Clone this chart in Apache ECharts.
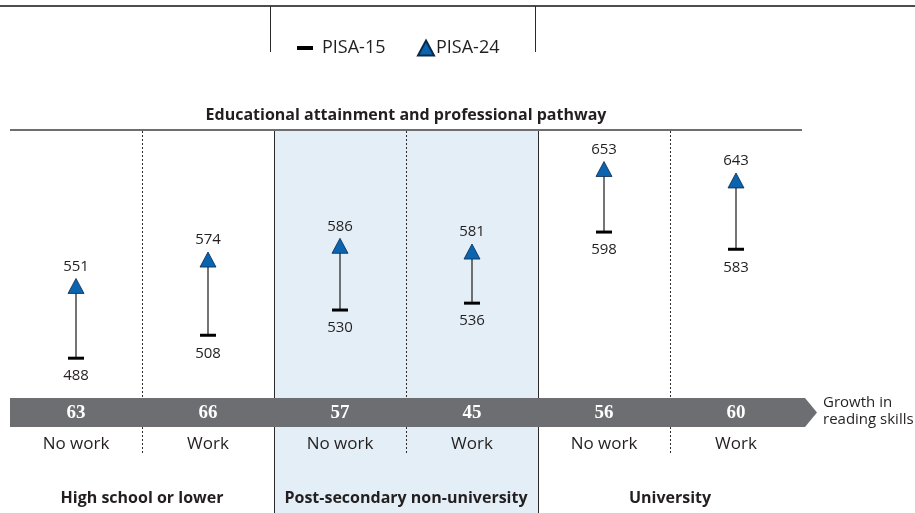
<!DOCTYPE html>
<html>
<head>
<meta charset="utf-8">
<script src="https://cdn.jsdelivr.net/npm/echarts@6/dist/echarts.min.js"></script>
<style>
  html, body { margin: 0; padding: 0; background: #ffffff; }
  #chart { width: 915px; height: 513px; }
</style>
</head>
<body>
<div id="chart"></div>
<script>
// Reading scores by educational attainment and work status
const pathways = ['No work', 'Work', 'No work', 'Work', 'No work', 'Work'];
const groups = ['High school or lower', 'Post-secondary non-university', 'University'];
const pisa15 = [488, 508, 530, 536, 598, 583];
const pisa24 = [551, 574, 586, 581, 653, 643];
const growth = [63, 66, 57, 45, 56, 60];
const seriesNames = ['PISA-15', 'PISA-24'];
const panelTitle = 'Educational attainment and professional pathway';
const growthCaption = 'Growth in\nreading skills';

const FONT = '"Open Sans", "Noto Sans", sans-serif';
const INK = '#231f20';
const BAR_GREY = '#6d6e71';
const BAR_TOP = 398, BAR_BOTTOM = 427;

const chart = echarts.init(document.getElementById('chart'));

const option = {
  animation: false,
  backgroundColor: '#ffffff',
  textStyle: { fontFamily: FONT },
  grid: { left: 10, right: 113, top: 130, bottom: 0, outerBoundsMode: 'none' },
  legend: [
    {
      data: [{ name: seriesNames[0], icon: 'rect' }],
      left: 292, top: 34,
      itemWidth: 16, itemHeight: 4,
      itemStyle: { color: '#000', borderWidth: 0 },
      textStyle: { fontFamily: FONT, fontSize: 18, color: INK, padding: [0, 0, 0, 4] },
      selectedMode: false
    },
    {
      data: [{ name: seriesNames[1], icon: 'triangle' }],
      left: 412, top: 34,
      itemWidth: 16, itemHeight: 15,
      textStyle: { fontFamily: FONT, fontSize: 18, color: INK, padding: [0, 0, 0, -3] },
      selectedMode: false
    }
  ],
  xAxis: {
    type: 'category',
    data: pathways,
    boundaryGap: true,
    offset: -77,
    axisLine: { show: false },
    axisTick: { show: false },
    splitLine: { show: false },
    axisLabel: { margin: 0, fontFamily: FONT, fontSize: 17, color: INK, interval: 0 }
  },
  yAxis: {
    type: 'value', min: 353, max: 687,
    show: false, splitLine: { show: false }
  },
  series: [
    {
      // connector between the two cycles
      type: 'custom',
      name: 'span',
      data: pathways.map((_, i) => [i, pisa15[i], pisa24[i]]),
      z: 3,
      renderItem: function (params, api) {
        const a = api.coord([api.value(0), api.value(1)]);
        const b = api.coord([api.value(0), api.value(2)]);
        return {
          type: 'line',
          shape: { x1: a[0], y1: a[1], x2: b[0], y2: b[1] },
          style: { stroke: '#3a3a3a', lineWidth: 1.4 }
        };
      }
    },
    {
      name: seriesNames[0],
      type: 'scatter',
      data: pathways.map((_, i) => [i, pisa15[i]]),
      symbol: 'rect',
      symbolSize: [16, 3],
      itemStyle: { color: '#000', opacity: 1 },
      z: 4,
      label: {
        show: true, position: 'bottom', distance: 9,
        formatter: p => p.value[1],
        fontFamily: FONT, fontSize: 15, color: INK
      }
    },
    {
      name: seriesNames[1],
      type: 'scatter',
      data: pathways.map((_, i) => [i, pisa24[i]]),
      symbol: 'triangle',
      symbolSize: [16, 15],
      itemStyle: { color: '#0a64b0', borderColor: '#0b2a4a', borderWidth: 0.8, opacity: 1 },
      z: 5,
      label: {
        show: true, position: 'top', distance: 4,
        formatter: p => p.value[1],
        fontFamily: FONT, fontSize: 15, color: INK
      }
    },
    {
      // growth figures printed on the arrow band
      type: 'custom',
      name: 'growth',
      data: growth.map((g, i) => [i, g]),
      z: 6,
      renderItem: function (params, api) {
        const x = api.coord([api.value(0), 500])[0];
        return {
          type: 'text',
          x: x, y: (BAR_TOP + BAR_BOTTOM) / 2 + 1,
          style: {
            text: String(api.value(1)),
            fill: '#ffffff',
            font: 'bold 19px "Liberation Serif", "DejaVu Serif", serif',
            align: 'center', verticalAlign: 'middle'
          }
        };
      }
    }
  ]
};

chart.setOption(option);

// Frame, shading and captions placed from the category scale
const cx = pathways.map((_, i) => chart.convertToPixel({ xAxisIndex: 0 }, i));
const step = cx[1] - cx[0];
const leftEdge = cx[0] - step / 2;
const rightEdge = cx[cx.length - 1] + step / 2;
const boundary = i => cx[i] + step / 2;

const elements = [];
elements.push({
  type: 'rect', z: -10,
  shape: { x: boundary(1), y: 130, width: 2 * step, height: 383 },
  style: { fill: '#e3eef6' }
});
[boundary(1), boundary(3)].forEach(x => elements.push({
  type: 'line', z: 1,
  shape: { x1: Math.round(x) + 0.5, y1: 130, x2: Math.round(x) + 0.5, y2: 513 },
  style: { stroke: '#2a2a2a', lineWidth: 1 }
}));
[boundary(0), boundary(2), boundary(4)].forEach(x => elements.push({
  type: 'line', z: 1,
  shape: { x1: Math.round(x) + 0.5, y1: 131, x2: Math.round(x) + 0.5, y2: 455 },
  style: { stroke: '#2a2a2a', lineWidth: 1, lineDash: [2, 2] }
}));
elements.push({
  type: 'line', z: 2,
  shape: { x1: leftEdge, y1: 130, x2: rightEdge, y2: 130 },
  style: { stroke: '#6d6e71', lineWidth: 2 }
});
elements.push({
  type: 'text', z: 2,
  x: (leftEdge + rightEdge) / 2, y: 115,
  style: {
    text: panelTitle, fill: INK,
    font: 'bold 16px ' + FONT, align: 'center', verticalAlign: 'middle'
  }
});
elements.push({
  type: 'polygon', z: 3,
  shape: {
    points: [
      [leftEdge, BAR_TOP], [rightEdge + 3, BAR_TOP],
      [rightEdge + 15, (BAR_TOP + BAR_BOTTOM) / 2],
      [rightEdge + 3, BAR_BOTTOM], [leftEdge, BAR_BOTTOM]
    ]
  },
  style: { fill: BAR_GREY }
});
elements.push({
  type: 'text', z: 3,
  x: rightEdge + 21, y: 411,
  style: {
    text: growthCaption, fill: INK,
    font: '15px ' + FONT, lineHeight: 17, align: 'left', verticalAlign: 'middle'
  }
});
groups.forEach((g, k) => elements.push({
  type: 'text', z: 3,
  x: boundary(2 * k), y: 498,
  style: {
    text: g, fill: INK,
    font: 'bold 16px ' + FONT, align: 'center', verticalAlign: 'middle'
  }
}));
// header rule and legend frame
elements.push({
  type: 'line', z: 2,
  shape: { x1: 0, y1: 6, x2: 915, y2: 6 },
  style: { stroke: '#4d4d4f', lineWidth: 2 }
});
[270.5, 535.5].forEach(x => elements.push({
  type: 'line', z: 2,
  shape: { x1: x, y1: 6, x2: x, y2: 52 },
  style: { stroke: '#2a2a2a', lineWidth: 1 }
}));

chart.setOption({ graphic: { elements: elements } });
</script>
</body>
</html>
